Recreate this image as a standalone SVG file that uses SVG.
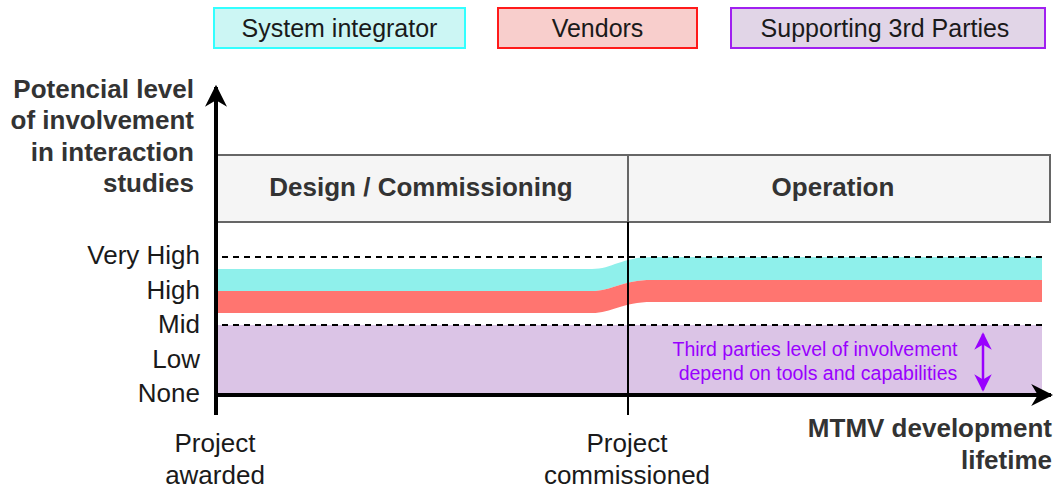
<svg xmlns="http://www.w3.org/2000/svg" width="1055" height="488" viewBox="0 0 1055 488">
  <style>
    .lbl { font-family: "Liberation Sans", Arial, sans-serif; font-size: 26px; fill: #1a1a1a; }
    .leg { font-family: "Liberation Sans", Arial, sans-serif; font-size: 25px; fill: #1a1a1a; }
    .ttl { font-family: "Liberation Sans", Arial, sans-serif; font-size: 26px; font-weight: bold; fill: #333333; }
    .note { font-family: "Liberation Sans", Arial, sans-serif; font-size: 19.5px; fill: #9900ff; }
    .dash { stroke: #000; stroke-width: 2; stroke-dasharray: 6 5; fill: none; }
  </style>
  <defs>
    <marker id="axisHead" viewBox="0 0 10 10" refX="9" refY="5" markerWidth="5.5" markerHeight="5.5" orient="auto" markerUnits="strokeWidth">
      <path d="M0,0 L10,5 L0,10 L3,5 Z" fill="#000"/>
    </marker>
    <marker id="noteHead" viewBox="0 0 10 10" refX="9" refY="5" markerWidth="7" markerHeight="7" orient="auto-start-reverse" markerUnits="strokeWidth">
      <path d="M0,0 L10,5 L0,10 L3,5 Z" fill="#9900ff"/>
    </marker>
  </defs>

  <!-- legend -->
  <g id="legend-integrator">
    <rect x="214" y="8" width="251" height="40" fill="#ccf6f4" stroke="#33ffff" stroke-width="2"/>
    <text class="leg" x="339.5" y="37" text-anchor="middle">System integrator</text>
  </g>
  <g id="legend-vendors">
    <rect x="498" y="8" width="199" height="40" fill="#f8cecc" stroke="#ff1a1a" stroke-width="2"/>
    <text class="leg" x="597.5" y="37" text-anchor="middle">Vendors</text>
  </g>
  <g id="legend-third">
    <rect x="731" y="8" width="314" height="40" fill="#e1d5e7" stroke="#a020f0" stroke-width="2"/>
    <text class="leg" x="885" y="37" text-anchor="middle">Supporting 3rd Parties</text>
  </g>

  <!-- phase header -->
  <g id="phase-header">
    <rect x="216" y="155" width="834" height="67" fill="#f5f5f5" stroke="#666666" stroke-width="2"/>
    <line x1="628" y1="155" x2="628" y2="222" stroke="#666666" stroke-width="2"/>
    <text class="ttl" x="421" y="196" text-anchor="middle">Design / Commissioning</text>
    <text class="ttl" x="833" y="196" text-anchor="middle">Operation</text>
  </g>

  <!-- involvement bands -->
  <g id="band-third">
    <rect x="216" y="325" width="826" height="69" fill="#dbc4e6"/>
  </g>
  <g id="band-integrator">
    <path d="M216,269 L592,269 C612,269 622,257 652,257 L1042,257 L1042,280 L652,280 C622,280 612,291 592,291 L216,291 Z" fill="#8ff0eb"/>
  </g>
  <g id="band-vendors">
    <path d="M216,291 L592,291 C612,291 622,280 652,280 L1042,280 L1042,302 L652,302 C622,302 612,313 592,313 L216,313 Z" fill="#ff7570"/>
  </g>

  <!-- level guides -->
  <g id="guides">
    <line class="dash" x1="222" y1="257" x2="1045" y2="257"/>
    <line class="dash" x1="222" y1="325" x2="1045" y2="325"/>
  </g>

  <!-- axes and milestone marker -->
  <g id="connectors">
    <line x1="628" y1="222" x2="628" y2="415" stroke="#000" stroke-width="2"/>
    <line x1="216" y1="415" x2="216" y2="87" stroke="#000" stroke-width="4" marker-end="url(#axisHead)"/>
    <line x1="214" y1="395" x2="1051" y2="395" stroke="#000" stroke-width="4" marker-end="url(#axisHead)"/>
    <line x1="983" y1="334" x2="983" y2="390" stroke="#9900ff" stroke-width="2.5" marker-start="url(#noteHead)" marker-end="url(#noteHead)"/>
  </g>

  <!-- axis titles -->
  <g id="y-title">
    <text class="ttl" x="194" y="98" text-anchor="end">Potencial level</text>
    <text class="ttl" x="194" y="129" text-anchor="end">of involvement</text>
    <text class="ttl" x="194" y="161" text-anchor="end">in interaction</text>
    <text class="ttl" x="194" y="192" text-anchor="end">studies</text>
  </g>
  <g id="x-title">
    <text class="ttl" x="1052" y="437" text-anchor="end">MTMV development</text>
    <text class="ttl" x="1052" y="469" text-anchor="end">lifetime</text>
  </g>

  <!-- level labels -->
  <g id="levels">
    <text class="lbl" x="200" y="264" text-anchor="end">Very High</text>
    <text class="lbl" x="200" y="299" text-anchor="end">High</text>
    <text class="lbl" x="200" y="333" text-anchor="end">Mid</text>
    <text class="lbl" x="200" y="368" text-anchor="end">Low</text>
    <text class="lbl" x="200" y="402" text-anchor="end">None</text>
  </g>

  <!-- milestones -->
  <g id="milestone-awarded">
    <text class="lbl" x="215" y="452" text-anchor="middle">Project</text>
    <text class="lbl" x="215" y="484" text-anchor="middle">awarded</text>
  </g>
  <g id="milestone-commissioned">
    <text class="lbl" x="627" y="452" text-anchor="middle">Project</text>
    <text class="lbl" x="627" y="484" text-anchor="middle">commissioned</text>
  </g>

  <!-- note on third parties -->
  <g id="third-party-note">
    <text class="note" x="815" y="356" text-anchor="middle">Third parties level of involvement</text>
    <text class="note" x="818" y="380" text-anchor="middle">depend on tools and capabilities</text>
  </g>
</svg>
